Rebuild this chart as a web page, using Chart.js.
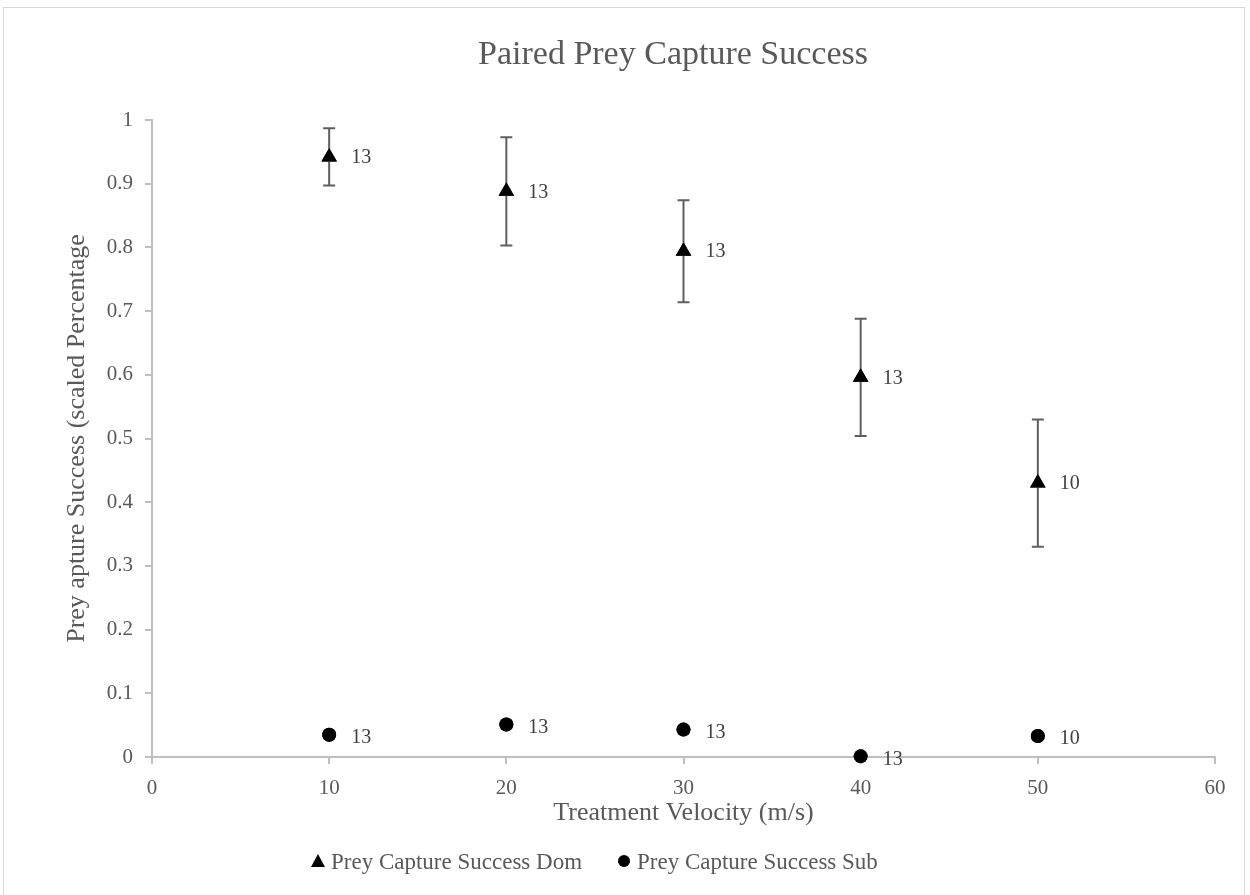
<!DOCTYPE html>
<html>
<head>
<meta charset="utf-8">
<script src="https://cdn.jsdelivr.net/npm/chart.js@4.4.0/dist/chart.umd.min.js"></script>
<style>
  html, body { margin: 0; padding: 0; background: #fff; }
  #wrap { position: relative; width: 1250px; height: 895px; }
  #frame { position: absolute; left: 3px; top: 7px; width: 1242px; height: 900px; border: 1px solid #d9d9d9; box-sizing: border-box; }
  #myChart { position: absolute; left: 0; top: 0; }
</style>
</head>
<body>
<div id="wrap">
  <div id="frame"></div>
  <canvas id="myChart" width="1250" height="895"></canvas>
</div>
<script>
// data
const velocities = [10, 20, 30, 40, 50];
const domMean = [0.942, 0.888, 0.794, 0.596, 0.430];
const domErr = [0.045, 0.085, 0.080, 0.092, 0.100];
const subMean = [0.035, 0.051, 0.043, 0.001, 0.033];
const subErr = [0.006, 0.005, 0.005, 0.004, 0.005];
const domN = [13, 13, 13, 13, 10];
const subN = [13, 13, 13, 13, 10];

const chartTitle = "Paired Prey Capture Success";
const xTitle = "Treatment Velocity (m/s)";
const yTitle = "Prey apture Success (scaled Percentage";
const seriesNames = ["Prey Capture Success Dom", "Prey Capture Success Sub"];

const FONT = "'Liberation Serif', 'Times New Roman', serif";
const TEXT = "#595959";
const AXIS = "#bfbfbf";

const toPoints = (xs, ys) => xs.map((x, i) => ({ x: x, y: ys[i] }));

// error bars + "n" labels next to each point, title and legend
const errorBarPlugin = {
  id: "errorBars",
  afterDatasetsDraw(chart) {
    const { ctx, scales } = chart;
    const errs = [domErr, subErr];
    const ns = [domN, subN];
    chart.data.datasets.forEach((ds, di) => {
      ds.data.forEach((pt, i) => {
        const x = scales.x.getPixelForValue(pt.x);
        const yTop = scales.y.getPixelForValue(pt.y + errs[di][i]);
        const yBot = scales.y.getPixelForValue(pt.y - errs[di][i]);
        ctx.save();
        ctx.strokeStyle = "#5f5f5f";
        ctx.lineWidth = 2;
        ctx.beginPath();
        ctx.moveTo(x, yTop); ctx.lineTo(x, yBot);
        ctx.moveTo(x - 6, yTop); ctx.lineTo(x + 6, yTop);
        ctx.moveTo(x - 6, yBot); ctx.lineTo(x + 6, yBot);
        ctx.stroke();
        ctx.restore();
      });
    });
    // redraw points on top of the bars
    chart.data.datasets.forEach((ds, di) => {
      chart.getDatasetMeta(di).data.forEach((el) => el.draw(ctx));
    });
    // sample size labels
    ctx.save();
    ctx.font = "20px " + FONT;
    ctx.fillStyle = "#404040";
    ctx.textAlign = "left";
    ctx.textBaseline = "middle";
    chart.data.datasets.forEach((ds, di) => {
      ds.data.forEach((pt, i) => {
        const x = scales.x.getPixelForValue(pt.x);
        const y = scales.y.getPixelForValue(pt.y);
        ctx.fillText(String(ns[di][i]), x + 22, y + (di === 1 ? 3 : 1));
      });
    });
    ctx.restore();
  },
  afterDraw(chart) {
    const { ctx } = chart;
    ctx.save();
    // chart title
    ctx.font = "34px " + FONT;
    ctx.fillStyle = TEXT;
    ctx.textAlign = "center";
    ctx.textBaseline = "middle";
    ctx.fillText(chartTitle, 673, 55);
    // legend
    ctx.font = "23px " + FONT;
    ctx.textAlign = "left";
    const items = [
      { x: 318, style: "triangle", label: seriesNames[0] },
      { x: 624, style: "circle", label: seriesNames[1] },
    ];
    items.forEach((it) => {
      ctx.fillStyle = "#000";
      ctx.beginPath();
      if (it.style === "triangle") {
        ctx.moveTo(it.x, 854); ctx.lineTo(it.x + 7, 867); ctx.lineTo(it.x - 7, 867);
      } else {
        ctx.arc(it.x, 861, 6, 0, Math.PI * 2);
      }
      ctx.fill();
      ctx.fillStyle = TEXT;
      ctx.fillText(it.label, it.x + 13, 863);
    });
    ctx.restore();
  },
};

const data = {
  datasets: [
    {
      label: seriesNames[0],
      data: toPoints(velocities, domMean),
      pointStyle: "triangle",
      pointRadius: 9,
      backgroundColor: "#000",
      borderColor: "#000",
      borderWidth: 0,
      showLine: false,
    },
    {
      label: seriesNames[1],
      data: toPoints(velocities, subMean),
      pointStyle: "circle",
      pointRadius: 7,
      backgroundColor: "#000",
      borderColor: "#000",
      borderWidth: 0,
      showLine: false,
    },
  ],
};

const config = {
  type: "scatter",
  data: data,
  options: {
    responsive: false,
    animation: false,
    layout: { padding: { left: 0, right: 35, top: 120, bottom: 0 } },
    plugins: {
      legend: { display: false },
      title: { display: false },
      tooltip: { enabled: false },
    },
    scales: {
      x: {
        type: "linear",
        min: 0,
        max: 60,
        ticks: { stepSize: 10, color: TEXT, font: { family: FONT, size: 21 }, padding: 12 },
        grid: { drawOnChartArea: false, color: AXIS, tickLength: 7, lineWidth: 2 },
        border: { color: AXIS, width: 2 },
        title: { display: true, text: xTitle, color: TEXT, font: { family: FONT, size: 26 }, padding: { bottom: 66 } },
        afterFit: (s) => { s.height = 138; },
      },
      y: {
        type: "linear",
        min: 0,
        max: 1,
        ticks: {
          stepSize: 0.1,
          color: TEXT,
          font: { family: FONT, size: 21 },
          padding: 12,
          callback: (v) => String(Number(v.toFixed(1))),
        },
        grid: { drawOnChartArea: false, color: AXIS, tickLength: 7, lineWidth: 2 },
        border: { color: AXIS, width: 2 },
        title: { display: true, text: yTitle, color: TEXT, font: { family: FONT, size: 26 }, padding: { top: 62 } },
        afterFit: (s) => { s.width = 152; },
      },
    },
  },
  plugins: [errorBarPlugin],
};

new Chart(document.getElementById("myChart"), config);
</script>
</body>
</html>
